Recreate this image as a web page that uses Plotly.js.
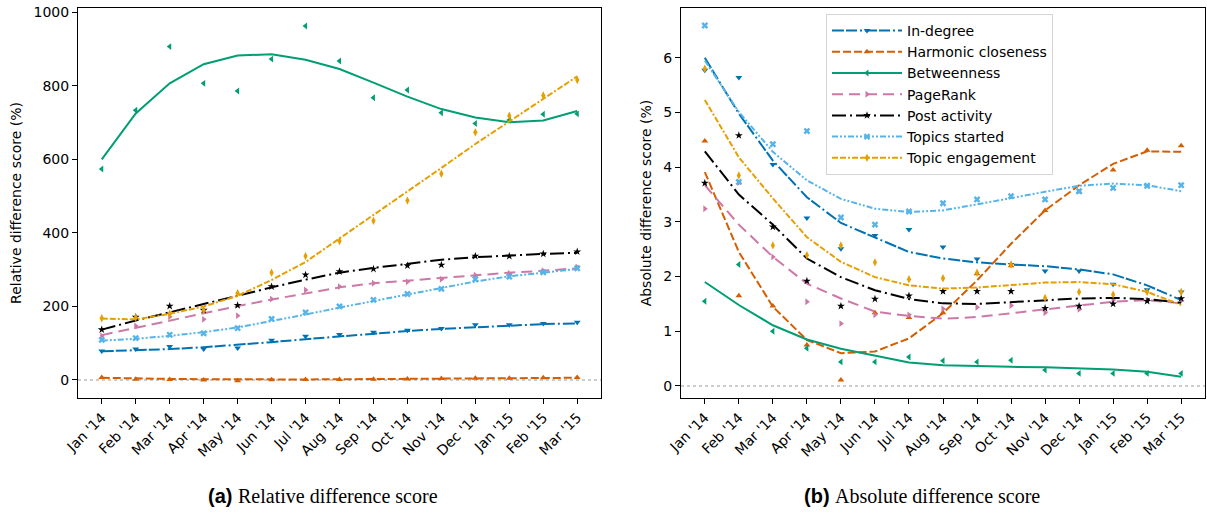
<!DOCTYPE html>
<html>
<head>
<meta charset="utf-8">
<script src="https://cdn.plot.ly/plotly-3.0.1.min.js"></script>
<style>html,body{margin:0;padding:0;background:#fff;}#chart{width:1207px;height:514px;}</style>
</head>
<body>
<div id="chart"></div>
<script>
// ---------- categories ----------
const months = ["Jan '14","Feb '14","Mar '14","Apr '14","May '14","Jun '14","Jul '14","Aug '14","Sep '14","Oct '14","Nov '14","Dec '14","Jan '15","Feb '15","Mar '15"];
const seriesNames = ["In-degree","Harmonic closeness","Betweenness","PageRank","Post activity","Topics started","Topic engagement"];

// ---------- (a) Relative difference score (%) ----------
const relInDegPts = [79, 84, 91, 84, 87, 108, 119, 124, 130, 135, 140, 150, 150, 154, 157];
const relInDegFit = [78, 80, 84, 89, 95, 103, 111, 119, 126, 133, 139, 144, 149, 152, 154];
const relHarmPts  = [7, 2, 1, 0, -2, 0.5, 1, 1, 2, 3, 4, 5, 5, 6, 7];
const relHarmFit  = [6, 4, 3, 2, 1.5, 1.5, 1.5, 2, 2.5, 3, 4, 4.5, 5, 5.5, 6];
const relBetwPts  = [574, 734, 907, 807, 786, 873, 963, 868, 768, 789, 727, 698, 707, 723, 724];
const relBetwFit  = [600, 725, 807, 859, 883, 886, 871, 846, 809, 771, 737, 714, 701, 706, 732];
const relPRPts    = [120, 147, 172, 165, 175, 220, 245, 254, 263, 267, 274, 285, 290, 297, 307];
const relPRFit    = [122, 142, 163, 183, 201, 219, 236, 252, 263, 270, 278, 286, 292, 297, 304];
const relPostPts  = [137, 171, 201, 190, 203, 254, 286, 295, 302, 311, 313, 337, 337, 343, 349];
const relPostFit  = [137, 162, 184, 207, 230, 252, 273, 292, 305, 316, 327, 334, 339, 343, 346];
const relTopPts   = [109, 114, 123, 127, 141, 166, 184, 200, 218, 234, 248, 274, 281, 293, 304];
const relTopFit   = [107, 112, 120, 130, 143, 160, 178, 197, 215, 233, 251, 268, 282, 293, 302];
const relEngPts   = [168, 170, 180, 190, 236, 292, 337, 378, 433, 488, 561, 674, 719, 774, 816];
const relEngFit   = [167, 165, 180, 200, 229, 272, 321, 385, 447, 512, 577, 642, 703, 765, 826];

// ---------- (b) Absolute difference score (%) ----------
const absInDegPts = [5.77, 5.64, 4.05, 3.07, 2.51, 2.75, 2.86, 2.54, 2.32, 2.22, 2.10, 2.10, 1.86, 1.76, 1.72];
const absInDegFit = [6.00, 4.98, 4.12, 3.45, 2.98, 2.71, 2.45, 2.33, 2.26, 2.22, 2.19, 2.13, 2.04, 1.84, 1.57];
const absHarmPts  = [4.48, 1.65, 1.46, 0.75, 0.11, 1.34, 1.25, 1.34, 2.05, 2.20, 3.21, 3.55, 3.95, 4.31, 4.39];
const absHarmFit  = [3.91, 2.45, 1.45, 0.84, 0.60, 0.63, 0.87, 1.33, 1.93, 2.60, 3.21, 3.67, 4.06, 4.29, 4.28];
const absBetwPts  = [1.55, 2.22, 1.00, 0.69, 0.44, 0.44, 0.53, 0.46, 0.44, 0.47, 0.29, 0.23, 0.23, 0.23, 0.23];
const absBetwFit  = [1.90, 1.48, 1.11, 0.85, 0.68, 0.55, 0.43, 0.38, 0.36, 0.35, 0.34, 0.32, 0.30, 0.26, 0.17];
const absPRPts    = [3.24, 3.72, 2.36, 1.54, 1.14, 1.30, 1.30, 1.41, 1.44, 1.47, 1.34, 1.40, 1.57, 1.57, 1.56];
const absPRFit    = [3.67, 2.95, 2.36, 1.87, 1.60, 1.36, 1.28, 1.23, 1.26, 1.33, 1.39, 1.46, 1.54, 1.57, 1.51];
const absPostPts  = [3.71, 4.58, 2.91, 1.92, 1.46, 1.59, 1.65, 1.73, 1.73, 1.73, 1.42, 1.46, 1.50, 1.55, 1.60];
const absPostFit  = [4.29, 3.50, 2.95, 2.33, 1.99, 1.75, 1.59, 1.51, 1.50, 1.53, 1.57, 1.60, 1.61, 1.59, 1.52];
const absTopPts   = [6.59, 3.73, 4.42, 4.66, 3.08, 2.95, 3.19, 3.34, 3.41, 3.47, 3.41, 3.56, 3.62, 3.66, 3.67];
const absTopFit   = [5.95, 5.01, 4.28, 3.76, 3.42, 3.24, 3.18, 3.21, 3.32, 3.44, 3.55, 3.66, 3.70, 3.67, 3.56];
const absEngPts   = [5.80, 3.85, 2.57, 2.39, 2.57, 2.26, 1.95, 1.97, 2.07, 2.22, 1.61, 1.72, 1.67, 1.72, 1.72];
const absEngFit   = [5.23, 4.18, 3.43, 2.72, 2.27, 1.99, 1.84, 1.78, 1.80, 1.84, 1.89, 1.90, 1.86, 1.72, 1.48];

// ---------- styles ----------
const colors  = ["#0072B2","#D55E00","#009E73","#CC79A7","#000000","#56B4E9","#E69F00"];
const symbols = ["triangle-down","triangle-up","triangle-left","triangle-right","star","x","diamond-tall"];
const dashes  = ["12px,2px,11px,3px,2px,3px","8px,3px","solid","11px,6px","14px,4px,2px,4px","6px,2px,2px,2px,2px,2px","6px,2px,6px,2px,2px,2px"];

const relPts = [relInDegPts, relHarmPts, relBetwPts, relPRPts, relPostPts, relTopPts, relEngPts];
const relFit = [relInDegFit, relHarmFit, relBetwFit, relPRFit, relPostFit, relTopFit, relEngFit];
const absPts = [absInDegPts, absHarmPts, absBetwPts, absPRPts, absPostPts, absTopPts, absEngPts];
const absFit = [absInDegFit, absHarmFit, absBetwFit, absPRFit, absPostFit, absTopFit, absEngFit];

const xIdx = months.map((m, i) => i);
const traces = [];
function addPanel(pts, fit, xa, ya) {
  for (let k = 0; k < seriesNames.length; k++) {
    traces.push({x: xIdx, y: fit[k], xaxis: xa, yaxis: ya, mode: 'lines', showlegend: false,
      line: {color: colors[k], width: 2, dash: dashes[k]}, hoverinfo: 'skip'});
    traces.push({x: xIdx, y: pts[k], xaxis: xa, yaxis: ya, mode: 'markers', showlegend: false,
      marker: {color: colors[k], symbol: symbols[k], size: 6, line: {width: 0}}});
  }
}
addPanel(relPts, relFit, 'x', 'y');
addPanel(absPts, absFit, 'x2', 'y2');
// legend entries
for (let k = 0; k < seriesNames.length; k++) {
  traces.push({x: [null], y: [null], xaxis: 'x2', yaxis: 'y2', mode: 'lines+markers', name: seriesNames[k],
    line: {color: colors[k], width: 2, dash: dashes[k]},
    marker: {color: colors[k], symbol: symbols[k], size: 6, line: {width: 0}}});
}

const W = 1207, H = 514;
const tickFont = {family: 'DejaVu Sans', size: 14, color: '#000'};
const common = {showgrid: false, zeroline: false, showline: true, mirror: true, linecolor: '#000', linewidth: 1,
  ticks: 'outside', ticklen: 5, tickwidth: 1, tickcolor: '#000', tickfont: tickFont};
const xCommon = Object.assign({}, common, {range: [-0.7, 14.7], tickvals: xIdx, ticktext: months, tickangle: -45});

const layout = {
  width: W, height: H,
  margin: {l: 0, r: 0, t: 0, b: 0},
  paper_bgcolor: '#fff', plot_bgcolor: '#fff',
  font: {family: 'DejaVu Sans', color: '#000'},
  xaxis: Object.assign({}, xCommon, {domain: [78 / W, 601 / W], anchor: 'y'}),
  yaxis: Object.assign({}, common, {domain: [(H - 398) / H, (H - 8) / H], anchor: 'x', range: [-49, 1012],
    tickvals: [0, 200, 400, 600, 800, 1000],
    title: {text: 'Relative difference score (%)', font: {family: 'DejaVu Sans', size: 14, color: '#000'}, standoff: 8}}),
  xaxis2: Object.assign({}, xCommon, {domain: [681 / W, 1205 / W], anchor: 'y2'}),
  yaxis2: Object.assign({}, common, {domain: [(H - 398) / H, (H - 8) / H], anchor: 'x2', range: [-0.22, 6.91],
    tickvals: [0, 1, 2, 3, 4, 5, 6],
    title: {text: 'Absolute difference score (%)', font: {family: 'DejaVu Sans', size: 14, color: '#000'}, standoff: 8}}),
  shapes: [
    {type: 'line', xref: 'x domain', x0: 0, x1: 1, yref: 'y', y0: 0, y1: 0, line: {color: '#999', width: 1, dash: 'dot'}, layer: 'below'},
    {type: 'line', xref: 'x2 domain', x0: 0, x1: 1, yref: 'y2', y0: 0, y1: 0, line: {color: '#999', width: 1, dash: 'dot'}, layer: 'below'}
  ],
  legend: {x: 826 / W, y: (H - 14) / H, xanchor: 'left', yanchor: 'top', bgcolor: 'rgba(255,255,255,0.9)',
    bordercolor: '#d5d5d5', borderwidth: 1, font: {family: 'DejaVu Sans', size: 14, color: '#000'},
    itemwidth: 70, tracegroupgap: 0},
  annotations: [
    {xref: 'paper', yref: 'paper', x: 323 / W, y: (H - 496) / H, xanchor: 'center', yanchor: 'middle', showarrow: false,
     text: '<b>(a)</b> <span style="font-family:Liberation Serif">Relative difference score</span>',
     font: {family: 'Liberation Sans', size: 20, color: '#000'}},
    {xref: 'paper', yref: 'paper', x: 922 / W, y: (H - 496) / H, xanchor: 'center', yanchor: 'middle', showarrow: false,
     text: '<b>(b)</b> <span style="font-family:Liberation Serif">Absolute difference score</span>',
     font: {family: 'Liberation Sans', size: 20, color: '#000'}}
  ]
};

Plotly.newPlot('chart', traces, layout, {displayModeBar: false, staticPlot: true});
</script>
</body>
</html>
